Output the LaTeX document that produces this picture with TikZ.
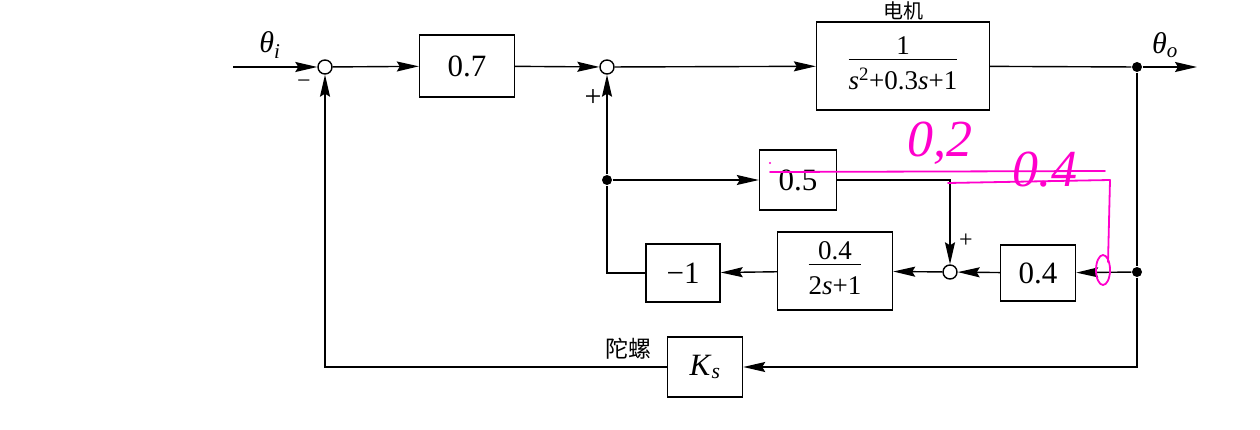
\documentclass[tikz,border=0pt]{standalone}
\usepackage{fontspec}
\setmainfont{Liberation Serif}
\newfontfamily\cjk{Noto Sans CJK SC}
\usetikzlibrary{arrows.meta,positioning,calc}
\definecolor{pen}{RGB}{255,0,204}

\begin{document}
\begin{tikzpicture}[x=1pt, y=-1pt, line width=1.4pt,
    blk/.style={draw, rectangle, inner sep=0pt, font=\fontsize{31}{34}\selectfont},
    frc/.style={font=\fontsize{27}{30}\selectfont},
    sumpt/.style={draw, circle, fill=white, minimum size=14pt, inner sep=0pt},
    dot/.style={circle, fill, minimum size=10pt, inner sep=0pt},
    sig/.style={-{Stealth[length=22pt, width=10pt, inset=3pt]}},
    lbl/.style={font=\fontsize{30}{32}\selectfont},
    note/.style={pen, line width=1.8pt, line cap=round, line join=round}]
                    \useasboundingbox (0,0) rectangle (1260,430);
                    % Forward path
                    \coordinate (in) at (233,67);
                    \node[sumpt] (s1) at (325,67) {};
                    \node[blk, minimum width=95pt, minimum height=62pt] (k07) at (467,66) {0.7};
                    \node[sumpt] (s2) at (607,67) {};
                    \node[blk, frc, minimum width=173pt, minimum height=88pt] (plant) at (903,66)
                        {\begin{tabular}{@{}c@{}}1\\[-4pt]\hline\rule{0pt}{30pt}\textit{s}\textsuperscript{2}+0.3\textit{s}+1\end{tabular}};
                    \node[dot] (d1) at (1137,67) {};
                    \coordinate (out) at (1197,67);
                    \node[font=\fontsize{20}{22}\selectfont, anchor=south, inner sep=0pt] at (plant.north) {\cjk 电机};
                    \node[lbl] at (270,45) {\textit{θ}\textsubscript{\textit{i}}};
                    \node[lbl] at (1165,45) {\textit{θ}\textsubscript{\textit{o}}};
                    \node[font=\fontsize{24}{26}\selectfont] at (304,84) {−};
                    \node[lbl] at (593,98) {+};

                    % Inner loop
                    \node[dot] (d2) at (1137,272) {};
                    \node[blk, minimum width=75pt, minimum height=56pt] (k04) at (1038,273) {0.4};
                    \node[sumpt] (s3) at (950,272) {};
                    \node[blk, frc, minimum width=115pt, minimum height=78pt] (lag) at (835,271)
                        {\begin{tabular}{@{}c@{}}0.4\\[-4pt]\hline\rule{0pt}{30pt}2\textit{s}+1\end{tabular}};
                    \node[blk, minimum width=74pt, minimum height=58pt] (neg) at (683,273) {−1};
                    \node[dot] (d3) at (607,180) {};
                    \node[blk, minimum width=77pt, minimum height=60pt] (k05) at (798,180) {0.5};
                    \node[font=\fontsize{24}{26}\selectfont] at (966,241) {+};

                    % Gyro feedback
                    \node[blk, minimum width=75pt, minimum height=60pt] (gyro) at (705,367) {\textit{K}\textsubscript{\textit{s}}};
                    \node[font=\fontsize{23}{26}\selectfont] at (628,349) {\cjk 陀螺};

                    \draw[sig] (in) -- (s1);
                    \draw[sig] (s1) -- (k07);
                    \draw[sig] (k07) -- (s2);
                    \draw[sig] (s2) -- (plant);
                    \draw (plant) -- (d1);
                    \draw[sig] (d1) -- (out);
                    \draw (d1) -- (d2);
                    \draw[sig] (d2) |- (gyro);
                    \draw[sig] (gyro) -| (s1);
                    \draw[sig] (d2) -- (k04);
                    \draw[sig] (k04) -- (s3);
                    \draw[sig] (s3) -- (lag);
                    \draw[sig] (lag) -- (neg);
                    \draw (neg) -| (d3);
                    \draw[sig] (d3) -- (s2);
                    \draw[sig] (d3) -- (k05);
                    \draw[sig] (k05) -| (s3);

                    % Pen marks
                    \fill[pen] (770,163) circle (1.2pt);
                    \draw[note] (770,172) -- (1105,171);
                    \draw[note] (948,183) -- (1110,180) -- (1108,262);
                    \draw[note] (1103,270) ellipse (7pt and 15pt);
                    \node[pen, font=\fontsize{52}{52}\selectfont\itshape] at (940,143) {0,2};
                    \node[pen, font=\fontsize{52}{52}\selectfont\itshape] at (1045,170) {0.4};
                \end{tikzpicture}
\end{document}
